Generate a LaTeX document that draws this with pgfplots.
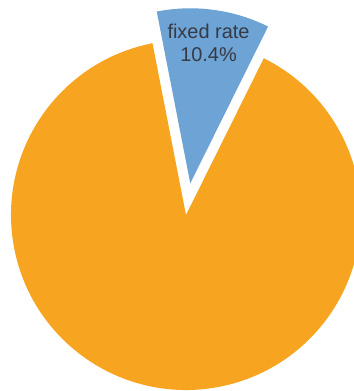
\documentclass[border=0pt]{standalone}
\usepackage{fontspec}
\setmainfont{Liberation Sans}
\usepackage{pgfplots}
\usepackage{pgfplotstable}
\pgfplotsset{compat=1.18}
\definecolor{pieorange}{HTML}{F7A520}
\definecolor{pieblue}{HTML}{6EA3D5}
\definecolor{labtext}{HTML}{363A45}
\pgfplotstableread{
label value
fixed 10.4
other 89.6
}\piedata
\begin{document}%
\begin{tikzpicture}
\pgfplotstablegetelem{0}{value}\of\piedata \let\vA\pgfplotsretval
\pgfplotstablegetelem{1}{value}\of\piedata \let\vB\pgfplotsretval
\pgfmathsetmacro\sA{63.6}
\pgfmathsetmacro\eA{\sA+\vA*3.6}
\pgfmathsetmacro\eB{\eA+\vB*3.6}
\pgfmathsetmacro\mA{(\sA+\eA)/2}
\begin{axis}[x=1bp,y=1bp,xmin=0,xmax=354,ymin=0,ymax=391,
  hide axis,ticks=none,clip=true,name=ax,anchor=origin,at={(0,0)}]
\fill[white] (axis cs:0,0) rectangle (axis cs:354,391);
\begin{scope}
\clip (axis cs:0,0) rectangle (axis cs:354,391);
\fill[pieorange] (axis cs:186,176) -- ++(\eA:175bp) arc[start angle=\eA, end angle=\eB, radius=175bp] -- cycle;
\fill[pieblue] ([shift={(\mA:32bp)}]axis cs:186,176) -- ++(\sA:175bp) arc[start angle=\sA, end angle=\eA, radius=175bp] -- cycle;
\end{scope}
\node[align=center,text=labtext,font=\fontsize{20}{23}\selectfont] at (axis cs:208.5,348) {fixed rate\\\vA\%};
\end{axis}
\pgfresetboundingbox
\path[use as bounding box] (0,0) rectangle (354bp,391bp);
\end{tikzpicture}%
\end{document}
